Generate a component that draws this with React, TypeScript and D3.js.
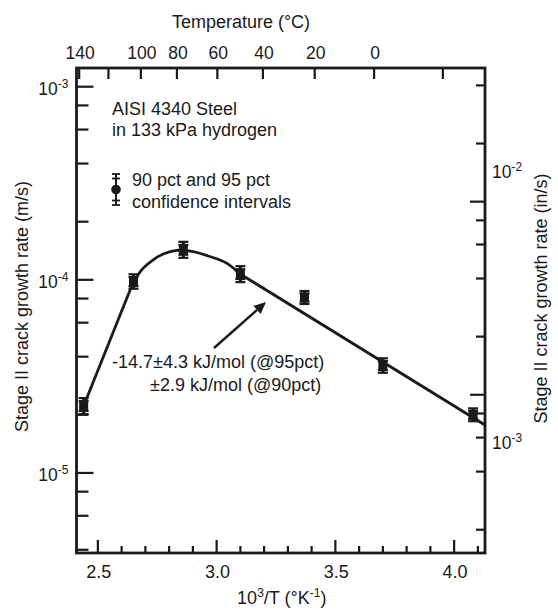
import * as d3 from 'd3'
import { useEffect, useRef } from 'react'

// measured points: 10^3/T (1/K) and stage II rate (m/s)
const invT = [2.44, 2.65, 2.86, 3.1, 3.37, 3.7, 4.08]
const rate = [2.22e-5, 9.8e-5, 1.43e-4, 1.07e-4, 8.1e-5, 3.6e-5, 2.0e-5]
// multiplicative half-widths of the confidence intervals
const ci95 = [1.1, 1.09, 1.1, 1.1, 1.08, 1.09, 1.08]
const ci90 = [1.06, 1.055, 1.06, 1.06, 1.05, 1.055, 1.05]

// fitted curve in three pieces
const riseX = [2.44, 2.65]
const riseY = [2.22e-5, 9.8e-5]
const humpX = [2.65, 2.691, 2.733, 2.775, 2.831, 2.901, 2.972, 3.042, 3.095]
const humpY = [9.8e-5, 1.15e-4, 1.27e-4, 1.36e-4, 1.42e-4, 1.4e-4, 1.32e-4, 1.22e-4, 1.08e-4]
const tailX = [3.095, 4.13]
const tailY = [1.08e-4, 1.77e-5]

// axes
const bottomTicks = [2.5, 2.6, 2.7, 2.8, 2.9, 3.0, 3.1, 3.2, 3.3, 3.4, 3.5, 3.6, 3.7, 3.8, 3.9, 4.0, 4.1]
const bottomLabels = [2.5, 3.0, 3.5, 4.0]
const topTicks = [140, 120, 100, 80, 60, 40, 20, 0, -20]
const topLabels = [140, 100, 80, 60, 40, 20, 0]
const leftMajor = [1e-3, 1e-4, 1e-5]
const leftMinor = [8e-4, 6e-4, 4e-4, 2e-4, 8e-5, 6e-5, 4e-5, 2e-5, 8e-6, 6e-6, 4e-6]
const rightMajor = [1e-2, 1e-3]
const rightMinor = [4e-2, 2e-2, 8e-3, 6e-3, 4e-3, 2e-3, 8e-4, 6e-4, 4e-4, 2e-4]
// right labels sit where the original put them (in/s value at the label)
const rightLabels = [
  { exp: -2, at: 1.42e-2 },
  { exp: -3, at: 5.6e-4 },
]
const IN_PER_M = 39.37

const W = 558
const H = 610
const FONT = '"Liberation Sans", Arial, Helvetica, sans-serif'
const INK = '#1a1a1a'

export default function App() {
  const ref = useRef<SVGSVGElement>(null)

  useEffect(() => {
    const svg = d3.select(ref.current)
    svg.selectAll('*').remove()

    const margin = { top: 68, right: 73, bottom: 57, left: 76.5 }
    const x0 = margin.left
    const x1 = W - margin.right
    const y0 = margin.top
    const y1 = H - margin.bottom

    const x = d3.scaleLinear().domain([2.41, 4.13]).range([x0, x1])
    const y = d3.scaleLog().domain([3.85e-6, 1.25e-3]).range([y1, y0])
    const yR = d3
      .scaleLog()
      .domain([3.85e-6 * IN_PER_M, 1.25e-3 * IN_PER_M])
      .range([y1, y0])
    const xT = (c: number) => x(1000 / (c + 273))

    const g = svg.append('g').attr('font-family', FONT).attr('fill', INK)

    // ticks
    const tick = (ax: number, ay: number, bx: number, by: number) =>
      g
        .append('line')
        .attr('x1', ax)
        .attr('y1', ay)
        .attr('x2', bx)
        .attr('y2', by)
        .attr('stroke', INK)
        .attr('stroke-width', 2.2)

    bottomTicks.forEach((v) => {
      const major = bottomLabels.some((b) => Math.abs(b - v) < 1e-9)
      tick(x(v), y1, x(v), y1 - (major ? 13 : 7))
    })
    topTicks.forEach((c) => tick(xT(c), y0, xT(c), y0 + 11))
    leftMajor.forEach((v) => tick(x0, y(v), x0 + 17, y(v)))
    leftMinor.forEach((v) => tick(x0, y(v), x0 + 12, y(v)))
    rightMajor.forEach((v) => tick(x1, yR(v), x1 - 15, yR(v)))
    rightMinor.forEach((v) => tick(x1, yR(v), x1 - 9, yR(v)))

    // frame
    g.append('rect')
      .attr('x', x0)
      .attr('y', y0)
      .attr('width', x1 - x0)
      .attr('height', y1 - y0)
      .attr('fill', 'none')
      .attr('stroke', INK)
      .attr('stroke-width', 2.8)

    // tick labels
    bottomLabels.forEach((v) => {
      g.append('text')
        .attr('x', x(v) + 1)
        .attr('y', y1 + 25)
        .attr('text-anchor', 'middle')
        .attr('font-size', 18)
        .text(v.toFixed(1))
    })
    topLabels.forEach((c) => {
      g.append('text')
        .attr('x', xT(c) + 1)
        .attr('y', y0 - 9)
        .attr('text-anchor', 'middle')
        .attr('font-size', 17.5)
        .text(String(c))
    })

    const power = (tx: number, ty: number, exp: number, anchor: string) => {
      const t = g
        .append('text')
        .attr('x', tx)
        .attr('y', ty)
        .attr('text-anchor', anchor)
        .attr('font-size', 17.5)
      t.append('tspan').text('10')
      t.append('tspan').attr('dy', -7).attr('font-size', 12).text(String(exp))
    }
    leftMajor.forEach((v) => power(x0 - 8, y(v) + 8, Math.round(Math.log10(v)), 'end'))
    rightLabels.forEach((l) => power(x1 + 7, yR(l.at) + 6, l.exp, 'start'))

    // axis titles
    g.append('text')
      .attr('x', 241)
      .attr('y', 28)
      .attr('text-anchor', 'middle')
      .attr('font-size', 18)
      .text('Temperature (°C)')

    const xt = g
      .append('text')
      .attr('x', (x0 + x1) / 2 + 1)
      .attr('y', 604)
      .attr('text-anchor', 'middle')
      .attr('font-size', 18)
    xt.append('tspan').text('10')
    xt.append('tspan').attr('dy', -7).attr('font-size', 12).text('3')
    xt.append('tspan').attr('dy', 7).text('/T (°K')
    xt.append('tspan').attr('dy', -7).attr('font-size', 12).text('-1')
    xt.append('tspan').attr('dy', 7).text(')')

    g.append('text')
      .attr('transform', `translate(28,${(y0 + y1) / 2 - 4}) rotate(-90)`)
      .attr('text-anchor', 'middle')
      .attr('font-size', 18)
      .text('Stage II crack growth rate (m/s)')

    g.append('text')
      .attr('transform', `translate(547,${(y0 + y1) / 2 - 12}) rotate(-90)`)
      .attr('text-anchor', 'middle')
      .attr('font-size', 18)
      .text('Stage II crack growth rate (in/s)')

    // fitted curve
    const drawCurve = (xs: number[], ys: number[], curve: d3.CurveFactory) => {
      g.append('path')
        .attr(
          'd',
          d3
            .line<number>()
            .x((d) => x(xs[d]))
            .y((d) => y(ys[d]))
            .curve(curve)(d3.range(xs.length))
        )
        .attr('fill', 'none')
        .attr('stroke', INK)
        .attr('stroke-width', 2.8)
        .attr('stroke-linejoin', 'round')
    }
    drawCurve(riseX, riseY, d3.curveLinear)
    drawCurve(humpX, humpY, d3.curveCatmullRom.alpha(0.5))
    drawCurve(tailX, tailY, d3.curveLinear)

    // data points with 95 and 90 pct bars
    invT.forEach((t, i) => {
      const px = x(t)
      const v = rate[i]
      const pt = g.append('g')
      pt.append('line')
        .attr('x1', px)
        .attr('x2', px)
        .attr('y1', y(v * ci95[i]))
        .attr('y2', y(v / ci95[i]))
        .attr('stroke', INK)
        .attr('stroke-width', 3)
      ;[v * ci95[i], v / ci95[i], v * ci90[i], v / ci90[i]].forEach((c) => {
        pt.append('line')
          .attr('x1', px - 5)
          .attr('x2', px + 5)
          .attr('y1', y(c))
          .attr('y2', y(c))
          .attr('stroke', INK)
          .attr('stroke-width', 2.2)
      })
      pt.append('rect')
        .attr('x', px - 4.5)
        .attr('y', y(v) - 4.5)
        .attr('width', 9)
        .attr('height', 9)
        .attr('fill', INK)
    })

    // legend
    const lx = 116
    g.append('line')
      .attr('x1', lx)
      .attr('x2', lx)
      .attr('y1', 174)
      .attr('y2', 205)
      .attr('stroke', INK)
      .attr('stroke-width', 2)
    ;[174, 178.5, 200.5, 205].forEach((cy) => {
      g.append('line')
        .attr('x1', lx - 4)
        .attr('x2', lx + 4)
        .attr('y1', cy)
        .attr('y2', cy)
        .attr('stroke', INK)
        .attr('stroke-width', 1.8)
    })
    g.append('circle').attr('cx', lx).attr('cy', 189.5).attr('r', 4.8).attr('fill', INK)
    g.append('text').attr('x', 132).attr('y', 186).attr('font-size', 18).text('90 pct and 95 pct')
    g.append('text').attr('x', 132).attr('y', 208).attr('font-size', 18).text('confidence intervals')

    // notes
    g.append('text').attr('x', 112).attr('y', 115).attr('font-size', 18).text('AISI 4340 Steel')
    g.append('text').attr('x', 112).attr('y', 136).attr('font-size', 18).text('in 133 kPa hydrogen')
    g.append('text').attr('x', 112).attr('y', 368).attr('font-size', 18).text('-14.7±4.3 kJ/mol (@95pct)')
    g.append('text').attr('x', 150).attr('y', 391).attr('font-size', 18).text('±2.9 kJ/mol (@90pct)')

    // arrow
    const ax0 = 214
    const ay0 = 348
    const ax1 = 266
    const ay1 = 302
    const ang = Math.atan2(ay1 - ay0, ax1 - ax0)
    const hl = 12
    const hw = 5.5
    const bx = ax1 - hl * Math.cos(ang)
    const by = ay1 - hl * Math.sin(ang)
    g.append('line')
      .attr('x1', ax0)
      .attr('y1', ay0)
      .attr('x2', bx)
      .attr('y2', by)
      .attr('stroke', INK)
      .attr('stroke-width', 2.4)
    g.append('path')
      .attr(
        'd',
        `M${ax1},${ay1}L${bx - hw * Math.sin(ang)},${by + hw * Math.cos(ang)}L${bx + hw * Math.sin(ang)},${
          by - hw * Math.cos(ang)
        }Z`
      )
      .attr('fill', INK)
  }, [])

  return (
    <svg
      ref={ref}
      width={W}
      height={H}
      viewBox={`0 0 ${W} ${H}`}
      style={{ position: 'absolute', left: 0, top: 0, background: '#fff' }}
    />
  )
}
